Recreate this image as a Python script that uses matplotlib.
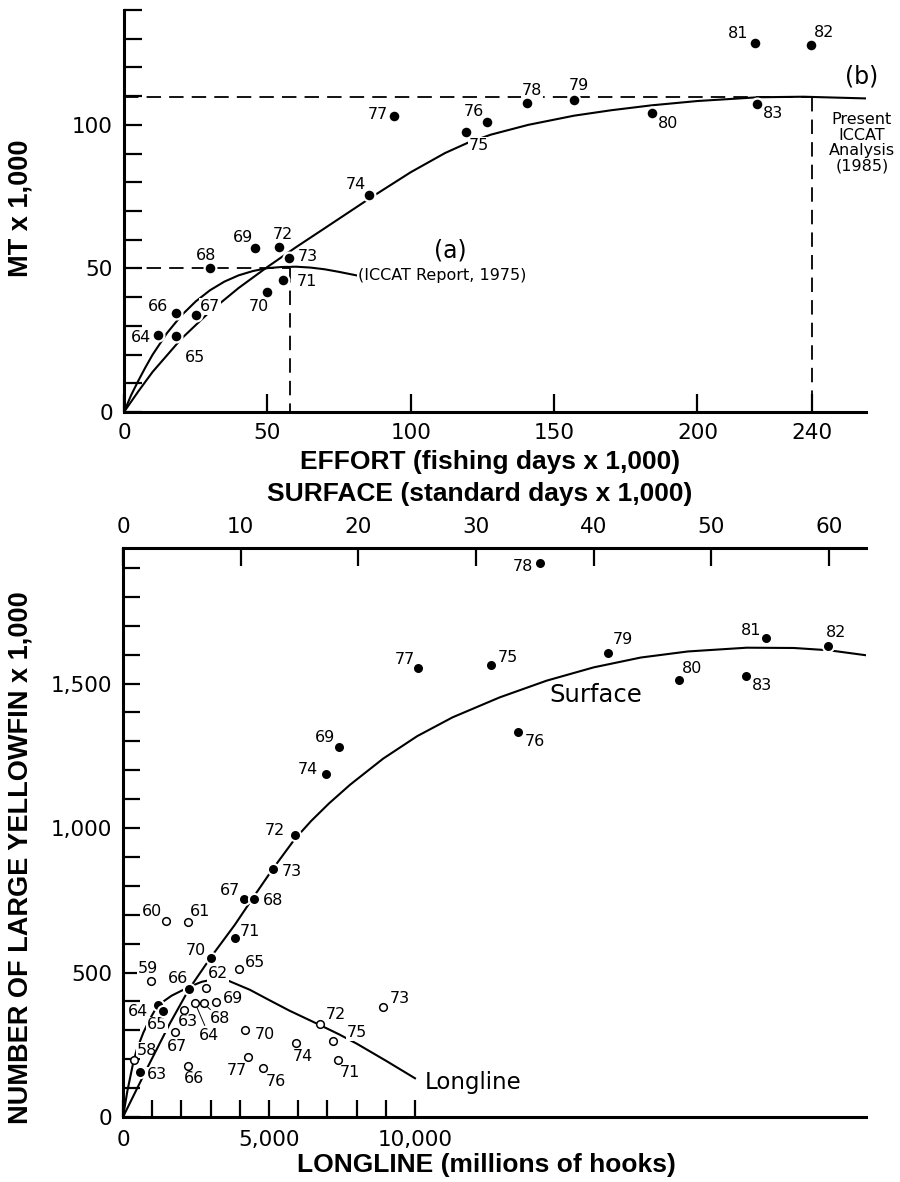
import matplotlib
matplotlib.use("Agg")
import matplotlib.pyplot as plt

plt.rcParams['font.family'] = ['DejaVu Sans']

# ---------------- TOP PANEL DATA ----------------
top_years = ["64", "65", "66", "67", "68", "69", "70", "71", "72", "73",
             "74", "75", "76", "77", "78", "79", "80", "81", "82", "83"]
top_effort = [11.9, 18.1, 18.0, 25.2, 30.0, 45.8, 49.8, 55.5, 54.1, 57.7,
              85.6, 119.3, 126.6, 94.2, 140.7, 157.0, 184.2, 220.0, 239.7, 220.7]
top_catch = [26.8, 26.6, 34.4, 33.9, 50.3, 57.0, 41.9, 46.0, 57.6, 53.5,
             75.6, 97.6, 101.1, 103.1, 107.7, 108.7, 104.2, 128.5, 127.9, 107.3]

fit1975_effort = [0, 2.5, 5, 7.5, 10, 15, 20, 25, 30, 35, 40, 45, 50, 55, 60,
                  65, 70, 75, 81]
fit1975_catch = [0, 5.9, 10.9, 15.6, 20.0, 27.5, 33.6, 38.5, 42.4, 45.4, 47.6,
                 49.1, 50.1, 50.5, 50.6, 50.3, 49.7, 48.8, 47.6]
msy1975, fmsy1975 = 50.0, 58.0

fit1985_effort = [0, 5, 10, 20, 30, 40, 50, 60, 70, 86, 100, 112, 120, 128, 141,
                  157, 170, 184, 200, 221, 237, 259]
fit1985_catch = [0, 7.2, 14.0, 25.5, 35.0, 43.2, 50.5, 57.4, 64.0, 74.6, 83.5,
                 90.2, 93.8, 96.6, 100.0, 103.2, 105.1, 106.8, 108.3, 109.6,
                 109.8, 109.2]
msy1985, fmsy1985 = 109.8, 240.0

top_xticks = [0, 50, 100, 150, 200, 240]
top_xticklabels = ["0", "50", "100", "150", "200", "240"]

# ---------------- BOTTOM PANEL DATA ----------------
surf_years = ["63", "64", "65", "66", "67", "68", "69", "70", "71", "72", "73",
              "74", "75", "76", "77", "78", "79", "80", "81", "82", "83"]
surf_days = [1.44, 2.95, 3.43, 5.61, 10.28, 11.16, 18.33, 7.45, 9.49, 14.61, 12.72,
             17.22, 31.24, 33.53, 25.06, 35.43, 41.18, 47.21, 54.63, 59.93, 52.93]
surf_fish = [157, 386, 368, 442, 753, 754, 1281, 549, 619, 975, 857,
             1186, 1563, 1334, 1555, 1918, 1607, 1512, 1656, 1630, 1526]

ll_years = ["58", "59", "60", "61", "62", "63", "64", "65", "66", "67",
            "68", "69", "70", "71", "72", "73", "74", "75", "76", "77"]
ll_hooks = [387, 959, 1462, 2237, 2832, 2100, 2470, 3980, 2215, 1786,
            2757, 3196, 4178, 7374, 6747, 8915, 5919, 7203, 4800, 4286]
ll_fish = [197, 470, 679, 676, 447, 371, 394, 513, 178, 293,
           394, 398, 302, 197, 321, 382, 255, 264, 168, 208]

surf_fit_days = [0, 2, 4, 5.6, 7.5, 9.5, 11.1, 12.7, 14.6, 16, 17.5, 19.3, 22.1,
                 25, 28, 32, 36, 40, 44, 48, 53, 57, 60, 63.1]
surf_fit_fish = [0, 165, 325, 442, 555, 665, 762, 857, 962, 1025, 1085, 1150,
                 1240, 1318, 1383, 1452, 1510, 1556, 1590, 1611, 1624, 1623,
                 1615, 1598]

ll_fit_hooks = [0, 150, 354, 468, 697, 925, 1187, 1667, 2260, 2700, 3092, 3600,
                4349, 5000, 5700, 6747, 7400, 8000, 9000, 10000]
ll_fit_fish = [0, 90, 190, 232, 292, 340, 386, 420, 450, 468, 476, 472,
               440, 405, 368, 318, 286, 254, 195, 134]

# label offsets (points) -- layout only
top_off = {"64": (-12, -2), "65": (13.5, -16), "66": (-12.5, 5), "67": (10, 6),
           "68": (-3, 8.5), "69": (-8.6, 8), "70": (-5.5, -10.5), "71": (17, -1.2),
           "72": (3, 9), "73": (13, 1.7), "74": (-9.6, 7.7), "75": (9, -9.6),
           "76": (-9.4, 7.2), "77": (-12, 1.2), "78": (3, 9), "79": (3.6, 10),
           "80": (11.3, -7.7), "81": (-11.8, 7), "82": (9.4, 9), "83": (12, -6.7)}
surf_off = {"63": (12, -2.4), "64": (-14, -4.6), "65": (-4.8, -10.3), "66": (-7.7, 7.9),
            "67": (-10, 6.7), "68": (13.7, -1.2), "69": (-9.9, 6.5), "70": (-10.8, 5.5),
            "71": (11, 4.5), "72": (-14.4, 3.3), "73": (13.7, -1.2), "74": (-12.5, 3.1),
            "75": (12.7, 5.5), "76": (12.5, -7.5), "77": (-9.4, 6), "78": (-12.5, -2.9),
            "79": (11.2, 9.1), "80": (10, 8.4), "81": (-11, 6), "82": (5.3, 9.6),
            "83": (11.3, -7)}
ll_off = {"58": (8.9, 7.2), "59": (-1.9, 8.9), "60": (-10, 6.5), "61": (8.4, 7.2),
          "62": (9, 10.4), "63": (2.6, -8.6), "64": (9.9, -23), "65": (11.3, 4.8),
          "66": (4.8, -9.1), "67": (1, -9.9), "68": (12, -11.3), "69": (12, 2.7),
          "70": (14.2, -3.6), "71": (8.4, -9.1), "72": (11.3, 6.7), "73": (12, 6),
          "74": (4.8, -9.6), "75": (16.8, 5.8), "76": (9.1, -9.1), "77": (-8.4, -9.6)}
leader = {"64", "68"}

W, H = 900, 1182
fig = plt.figure(figsize=(9, 11.82), dpi=100)

def fx(px):
    return px / W

def fy(py):
    return 1 - py / H

LW_SPINE = 2.2
TICK_FS = 15.5
YEAR_FS = 11.5
DASH = (8, 4.5)

def year_label(ax, x, y, txt, off, leader_line=False):
    kw = dict(textcoords="offset points", ha="center", va="center",
              fontsize=YEAR_FS, zorder=3,
              bbox=dict(boxstyle="square,pad=0.05", fc="white", ec="none"))
    if leader_line:
        kw["arrowprops"] = dict(arrowstyle="-", lw=0.7, color="black",
                                shrinkA=1, shrinkB=3)
    ax.annotate(txt, (x, y), xytext=off, **kw)

# ================= TOP PANEL =================
ax1 = fig.add_axes([fx(124), fy(412), fx(866 - 124), (412 - 10) / H])
ax1.set_xlim(0, 258.8)
ax1.set_ylim(0, 140)
for s in ("top", "right"):
    ax1.spines[s].set_visible(False)
for s in ("left", "bottom"):
    ax1.spines[s].set_linewidth(LW_SPINE)

ax1.plot(fit1975_effort, fit1975_catch, color="black", lw=1.5, zorder=2)
ax1.plot(fit1985_effort, fit1985_catch, color="black", lw=1.5, zorder=2)
ax1.plot([0, fmsy1975], [msy1975, msy1975], color="black", lw=1.3,
         dashes=DASH, zorder=2)
ax1.plot([fmsy1975, fmsy1975], [msy1975, 0], color="black", lw=1.3,
         dashes=DASH, zorder=2)
ax1.plot([0, fmsy1985], [msy1985, msy1985], color="black", lw=1.3,
         dashes=DASH, zorder=2)
ax1.plot([fmsy1985, fmsy1985], [msy1985, 0], color="black", lw=1.3,
         dashes=DASH, zorder=2)

ax1.plot(top_effort, top_catch, "o", ms=8.5, mfc="black", mec="white",
         mew=1.6, zorder=4, clip_on=False)
for yr, x, y in zip(top_years, top_effort, top_catch):
    year_label(ax1, x, y, yr, top_off[yr])

ax1.text(113.7, 56.4, "(a)", fontsize=17, ha="center", va="center")
ax1.text(81.5, 47.7, "(ICCAT Report, 1975)", fontsize=11.5, ha="left",
         va="center", zorder=3,
         bbox=dict(boxstyle="square,pad=0.05", fc="white", ec="none"))
ax1.text(257.4, 117.0, "(b)", fontsize=17, ha="center", va="center",
         clip_on=False)
ax1.text(257.4, 93.7, "Present\nICCAT\nAnalysis\n(1985)", fontsize=11.5,
         ha="center", va="center", linespacing=1.05, clip_on=False)

ax1.set_xticks(top_xticks)
ax1.set_xticklabels(top_xticklabels)
ax1.set_yticks(range(0, 141, 10))
ax1.set_yticklabels([str(v) if v % 50 == 0 else "" for v in range(0, 141, 10)])
ax1.tick_params(axis="both", direction="in", length=13, width=1.6,
                labelsize=TICK_FS, pad=8)

# ================= BOTTOM PANEL =================
ax2 = fig.add_axes([fx(123), fy(1117), fx(866 - 123), (1117 - 548) / H])
ax2.set_xlim(0, 25445)
ax2.set_ylim(0, 1969)
ax2.spines["right"].set_visible(False)
ax2.spines["top"].set_visible(False)
for s in ("left", "bottom"):
    ax2.spines[s].set_linewidth(LW_SPINE)

ax3 = ax2.twiny()
ax3.set_xlim(0, 63.13)
ax3.set_ylim(0, 1969)
for s in ("right", "left", "bottom"):
    ax3.spines[s].set_visible(False)
ax3.spines["top"].set_linewidth(LW_SPINE)

# longline
ax2.plot(ll_fit_hooks, ll_fit_fish, color="black", lw=1.5, zorder=2)
ax2.plot(ll_hooks, ll_fish, "o", ms=5.5, mfc="white", mec="black", mew=1.1,
         zorder=4)
for yr, x, y in zip(ll_years, ll_hooks, ll_fish):
    year_label(ax2, x, y, yr, ll_off[yr], leader_line=(yr in leader))
ax2.text(12003, 118, "Longline", fontsize=16.5, ha="center", va="center")

# surface
ax3.plot(surf_fit_days, surf_fit_fish, color="black", lw=1.5, zorder=2)
ax3.plot(surf_days, surf_fish, "o", ms=8, mfc="black", mec="white", mew=1.5,
         zorder=4, clip_on=False)
for yr, x, y in zip(surf_years, surf_days, surf_fish):
    year_label(ax3, x, y, yr, surf_off[yr])
ax3.text(40.19, 1460, "Surface", fontsize=17.5, ha="center", va="center")

ax2.set_xticks(range(0, 10001, 1000))
ax2.set_xticklabels(["0" if v == 0 else ("5,000" if v == 5000 else
                     ("10,000" if v == 10000 else "")) for v in range(0, 10001, 1000)])
ax2.set_yticks(range(0, 1901, 100))
ax2.set_yticklabels(["0" if v == 0 else (f"{v:,}" if v % 500 == 0 else "")
                     for v in range(0, 1901, 100)])
ax2.tick_params(axis="both", direction="in", length=12, width=1.6,
                labelsize=TICK_FS, pad=9)
ax2.tick_params(axis="y", pad=8)

ax3.set_xticks(range(0, 61, 10))
ax3.set_xticklabels([str(v) for v in range(0, 61, 10)])
ax3.tick_params(axis="x", direction="in", length=13, width=1.6,
                labelsize=TICK_FS, pad=8)

# ================= AXIS TITLES =================
lab = dict(family="Liberation Sans", fontweight="bold", fontsize=19,
           ha="center", va="center")
fig.text(fx(490), fy(462), "EFFORT (fishing days x 1,000)", **lab)
fig.text(fx(480), fy(494), "SURFACE (standard days x 1,000)", **lab)
fig.text(fx(486), fy(1165), "LONGLINE (millions of hooks)", **lab)
ylab = dict(family="Liberation Sans", fontweight="bold", fontsize=19.5,
            ha="center", va="center", rotation=90)
fig.text(fx(21), fy(208), "MT x 1,000", **ylab)
fig.text(fx(21), fy(858), "NUMBER OF LARGE YELLOWFIN x 1,000", **ylab)

fig.savefig("out.png", dpi=100)
